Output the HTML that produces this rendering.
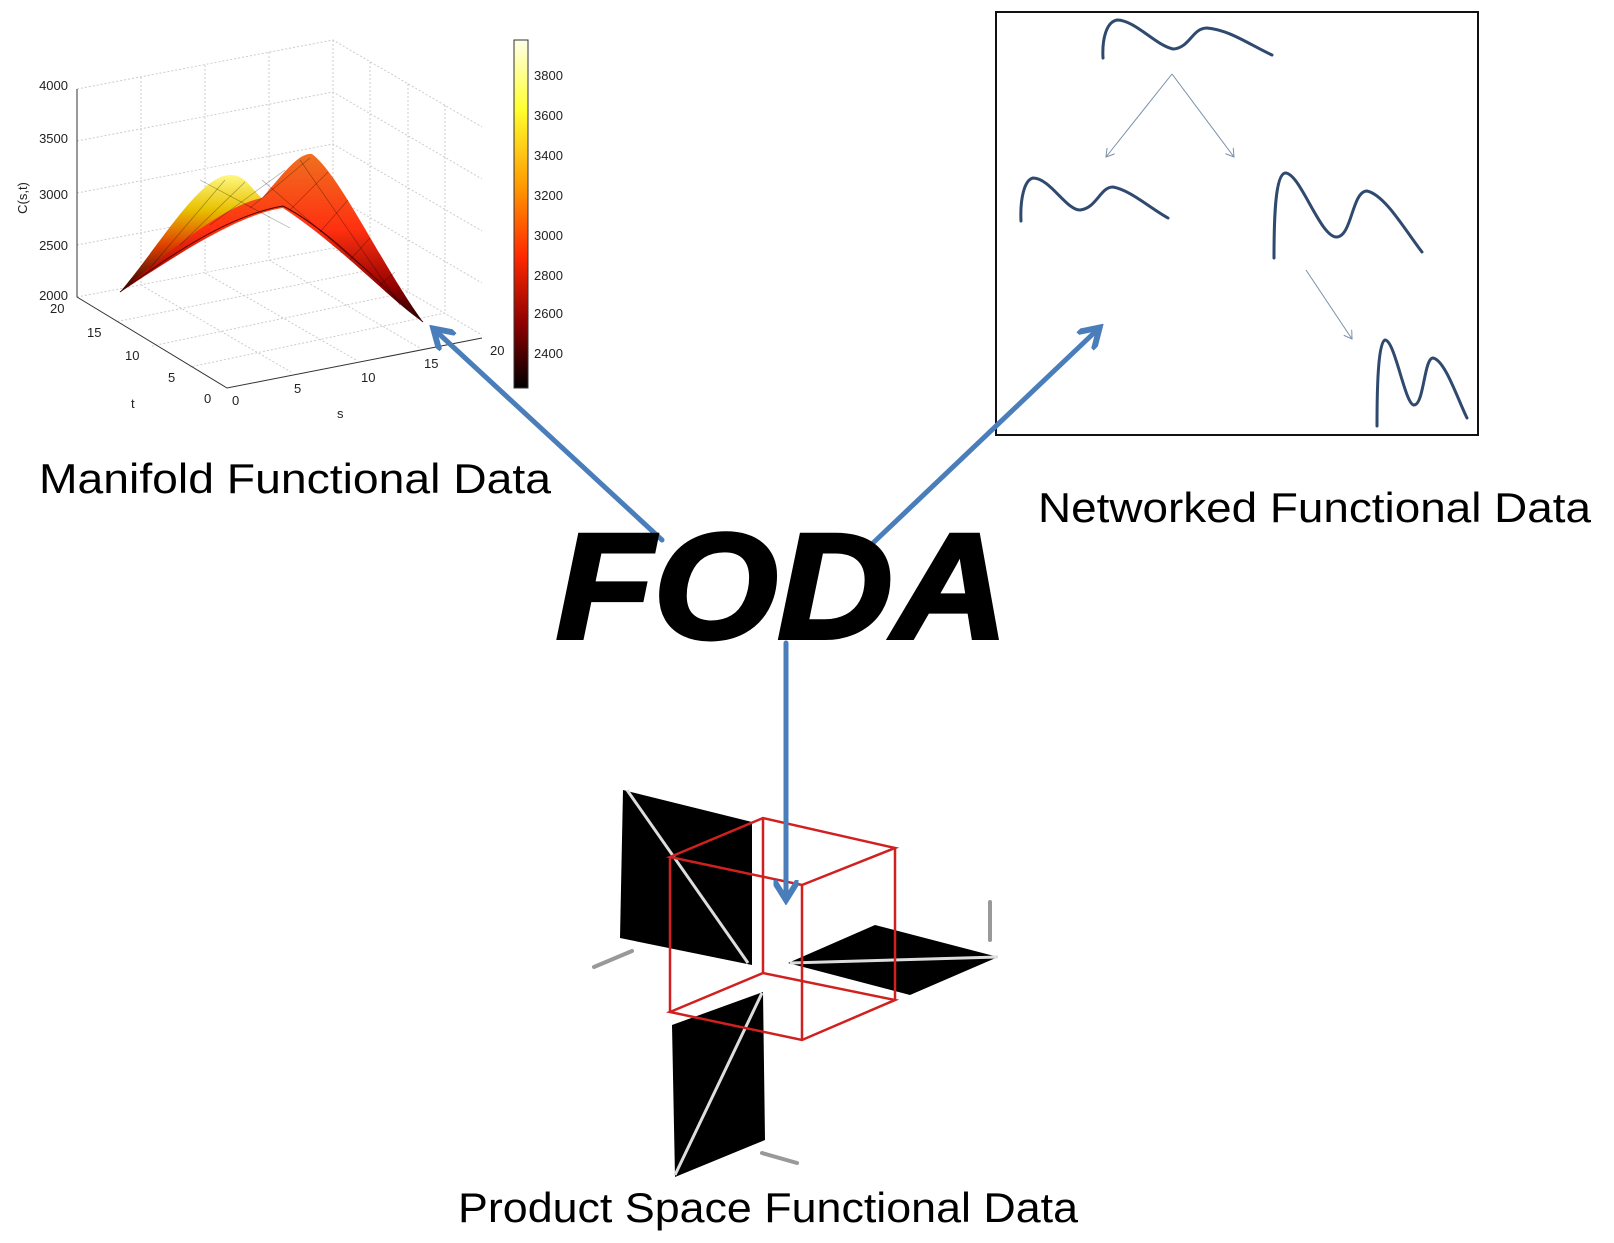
<!DOCTYPE html>
<html><head><meta charset="utf-8"><style>
html,body{margin:0;padding:0;background:#fff}
svg{display:block}
text{font-family:"Liberation Sans",sans-serif}
</style></head><body>
<svg width="1614" height="1243" viewBox="0 0 1614 1243" xmlns="http://www.w3.org/2000/svg">
<defs>
<linearGradient id="cb" x1="0" y1="0" x2="0" y2="1">
<stop offset="0" stop-color="#ffffe8"/><stop offset="0.2" stop-color="#ffff30"/>
<stop offset="0.42" stop-color="#ff9a00"/><stop offset="0.62" stop-color="#ff2a00"/>
<stop offset="0.82" stop-color="#8a0000"/><stop offset="1" stop-color="#000"/>
</linearGradient>
<linearGradient id="yl" x1="0" y1="0" x2="0" y2="1">
<stop offset="0" stop-color="#fff880"/><stop offset="0.3" stop-color="#e8c000"/>
<stop offset="0.6" stop-color="#e04000"/><stop offset="1" stop-color="#200000"/>
</linearGradient>
<linearGradient id="or" x1="0" y1="0" x2="0" y2="1">
<stop offset="0" stop-color="#f07020"/><stop offset="0.45" stop-color="#ff3010"/>
<stop offset="0.8" stop-color="#900000"/><stop offset="1" stop-color="#100000"/>
</linearGradient>
<marker id="bh" markerWidth="5" markerHeight="5" refX="3" refY="2.5" orient="auto" markerUnits="strokeWidth">
<path d="M0,0 L4,2.5 L0,5" fill="none" stroke="#4a7ebb" stroke-width="1.2"/></marker>
<marker id="th" markerWidth="10" markerHeight="10" refX="8" refY="5" orient="auto" markerUnits="userSpaceOnUse">
<path d="M0,0 L8,5 L0,10" fill="none" stroke="#7a8fa8" stroke-width="1"/></marker>
</defs>

<!-- 3D plot -->
<g stroke="#ccc" stroke-width="1" stroke-dasharray="2,2" fill="none">
<path d="M77,89 L333,40 L482,127"/><path d="M333,40 L333,248 L482,335"/><path d="M77,297 L333,248"/>
<path d="M77,141 L333,92 L482,179"/><path d="M77,193 L333,144 L482,231"/><path d="M77,245 L333,196 L482,283"/>
<path d="M141,77 L141,285 L291,372"/><path d="M205,65 L205,273 L356,360"/><path d="M269,52 L269,260 L420,348"/>
<path d="M370,62 L370,270 L115,322"/><path d="M408,84 L408,292 L152,346"/><path d="M445,105 L445,313 L190,367"/>
</g>
<g stroke="#333" stroke-width="1" fill="none">
<path d="M77,89 L77,297 L227,388 L482,338"/>
</g>
<g font-size="13" fill="#222" text-anchor="end">
<text x="68" y="90">4000</text><text x="68" y="143">3500</text><text x="68" y="199">3000</text>
<text x="68" y="250">2500</text><text x="68" y="300">2000</text>
</g>
<g font-size="13" fill="#222">
<text x="50" y="313">20</text><text x="87" y="337">15</text><text x="125" y="360">10</text><text x="168" y="382">5</text><text x="204" y="403">0</text>
<text x="232" y="405">0</text><text x="294" y="393">5</text><text x="361" y="382">10</text><text x="424" y="368">15</text><text x="490" y="355">20</text>
<text x="131" y="408">t</text><text x="337" y="418">s</text>
<text transform="translate(27,198) rotate(-90)" text-anchor="middle">C(s,t)</text>
</g>
<!-- surface -->
<path d="M120,292 C160,245 200,175 230,175 C245,174 252,190 262,198 C235,205 195,230 168,255 C150,272 132,285 120,292Z" fill="url(#yl)"/>
<path d="M120,292 C170,250 225,205 262,198 C280,178 298,152 312,154 C340,175 380,262 423,322 C390,300 340,245 283,208 C235,215 170,260 120,292Z" fill="url(#or)"/>
<path d="M120,292 C170,255 230,215 283,206 C330,230 380,285 423,322" fill="none" stroke="#500" stroke-width="1"/>
<g stroke="#000" stroke-opacity="0.35" stroke-width="0.7" fill="none">
<path d="M150,268 L225,180"/><path d="M180,245 L245,182"/><path d="M210,225 L285,170"/><path d="M250,208 L310,158"/>
<path d="M290,210 L328,172"/><path d="M320,232 L348,200"/><path d="M350,260 L370,238"/><path d="M380,285 L395,272"/>
<path d="M200,180 L290,228"/><path d="M262,180 L360,265"/><path d="M300,160 L400,305"/>
</g>
<rect x="514" y="40" width="14" height="348" fill="url(#cb)" stroke="#333" stroke-width="1"/>
<g font-size="13" fill="#222">
<text x="534" y="80">3800</text><text x="534" y="120">3600</text><text x="534" y="160">3400</text><text x="534" y="200">3200</text>
<text x="534" y="240">3000</text><text x="534" y="280">2800</text><text x="534" y="318">2600</text><text x="534" y="358">2400</text>
</g>

<!-- network box -->
<rect x="996" y="12" width="482" height="423" fill="none" stroke="#111" stroke-width="2"/>
<g fill="none" stroke="#2f4a6e" stroke-width="3" stroke-linecap="round">
<path d="M1103,58 C1102,40 1106,22 1117,20 C1135,20 1155,45 1173,49 C1190,48 1192,28 1207,28 C1230,30 1250,45 1272,55"/>
<path d="M1021,221 C1020,200 1024,180 1033,178 C1050,178 1066,210 1080,210 C1097,208 1100,187 1113,187 C1130,190 1150,208 1168,218"/>
<path d="M1274,258 C1274,220 1275,175 1285,173 C1300,172 1320,238 1337,237 C1352,236 1352,191 1367,191 C1385,195 1405,230 1422,252"/>
<path d="M1377,426 C1377,390 1378,342 1385,340 C1395,340 1405,405 1414,405 C1424,405 1424,358 1433,358 C1445,360 1458,400 1467,418"/>
</g>
<g stroke="#7a8fa8" stroke-width="1" fill="none">
<path d="M1172,74 L1106,157" marker-end="url(#th)"/>
<path d="M1172,74 L1234,157" marker-end="url(#th)"/>
<path d="M1306,270 L1352,339" marker-end="url(#th)"/>
</g>

<!-- product space figure -->
<g stroke="#999" stroke-width="4" stroke-linecap="round">
<path d="M594,967 L632,951"/><path d="M990,902 L990,940"/><path d="M762,1153 L797,1163"/>
</g>
<path d="M623,790 L752,822 L752,965 L620,938Z" fill="#000"/>
<path d="M627,790 L748,963" stroke="#ddd" stroke-width="3"/>
<path d="M672,1025 L763,992 L765,1140 L675,1177Z" fill="#000"/>
<path d="M675,1175 L762,993" stroke="#ddd" stroke-width="3"/>
<path d="M788,963 L875,925 L998,957 L910,995Z" fill="#000"/>
<path d="M790,963 L998,957" stroke="#ddd" stroke-width="3"/>
<g stroke="#d02020" stroke-width="2.5" fill="none">
<path d="M670,857 L763,818 L895,848 L802,885Z"/>
<path d="M670,1012 L763,973 L895,1000 L802,1040Z"/>
<path d="M670,857 L670,1012 M763,818 L763,973 M895,848 L895,1000 M802,885 L802,1040"/>
</g>

<!-- blue arrows -->
<g stroke="#4a7ebb" stroke-width="5" fill="none" stroke-linecap="round">
<path d="M662,540 L437,332" marker-end="url(#bh)"/>
<path d="M873,543 L1096,331" marker-end="url(#bh)"/>
<path d="M786,643 L786,895" marker-end="url(#bh)"/>
</g>

<!-- labels -->
<text x="39" y="493" font-size="42" fill="#000" textLength="512" lengthAdjust="spacingAndGlyphs">Manifold Functional Data</text>
<text x="1038" y="522" font-size="42" fill="#000" textLength="553" lengthAdjust="spacingAndGlyphs">Networked Functional Data</text>
<text x="458" y="1222" font-size="42" fill="#000" textLength="620" lengthAdjust="spacingAndGlyphs">Product Space Functional Data</text>
<text x="556" y="638" font-size="150" font-weight="bold" font-style="italic" fill="#000" stroke="#000" stroke-width="4" textLength="452" lengthAdjust="spacingAndGlyphs">FODA</text>
</svg>
</body></html>
